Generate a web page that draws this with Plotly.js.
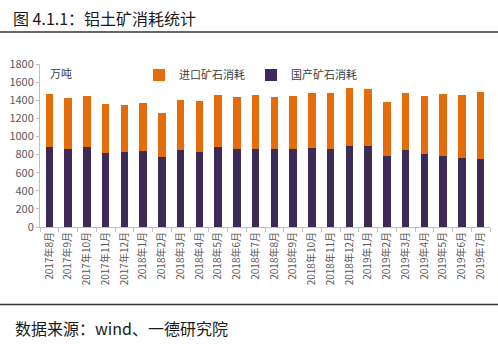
<!DOCTYPE html>
<html>
<head>
<meta charset="utf-8">
<script src="https://cdn.plot.ly/plotly-3.0.1.min.js"></script>
<style>html,body{margin:0;padding:0;background:#fff;}#chart{width:498px;height:347px;}</style>
</head>
<body>
<div id="chart"></div>
<script>
const categories = ["2017年8月","2017年9月","2017年10月","2017年11月","2017年12月","2018年1月","2018年2月","2018年3月","2018年4月","2018年5月","2018年6月","2018年7月","2018年8月","2018年9月","2018年10月","2018年11月","2018年12月","2019年1月","2019年2月","2019年3月","2019年4月","2019年5月","2019年6月","2019年7月"];
const domestic = [882,860,888,819,830,841,771,852,830,882,860,860,860,860,871,860,899,899,789,849,811,789,764,749];
const imported = [584,561,556,536,514,525,492,551,562,573,573,595,573,584,606,617,633,622,589,628,633,677,691,742];

const FONT = "'Noto Sans CJK SC', 'Liberation Sans', sans-serif";
const px = x => (x - 40) / 450;
const py = y => (227 - y) / 163;

const data = [
  {type:'bar', name:'国产矿石消耗', x:categories, y:domestic, marker:{color:'#3D2A57'}},
  {type:'bar', name:'进口矿石消耗', x:categories, y:imported, marker:{color:'#E46C0A'}}
];

const layout = {
  width:498, height:347,
  margin:{l:40, r:8, t:64, b:120},
  paper_bgcolor:'#fff', plot_bgcolor:'#fff',
  barmode:'stack', bargap:0.59,
  font:{family:FONT, color:'#595959', size:11},
  showlegend:true,
  legend:{orientation:'h', traceorder:'reversed', x:px(139), y:py(75), xanchor:'left', yanchor:'middle',
          font:{size:11, color:'#404040', family:FONT}, bgcolor:'rgba(0,0,0,0)', itemwidth:30,
          entrywidth:67, entrywidthmode:'pixels'},
  xaxis:{type:'category', tickangle:-90, tickfont:{size:10, color:'#595959', family:FONT},
         showline:true, linecolor:'#BFBFBF', linewidth:1, ticks:'outside', tickson:'boundaries',
         ticklen:4, tickcolor:'#BFBFBF', showgrid:false, automargin:false},
  yaxis:{range:[0,1800], dtick:200, tickfont:{size:11, color:'#595959', family:FONT},
         showline:true, linecolor:'#BFBFBF', linewidth:1, ticks:'outside', ticklen:3, tickcolor:'#BFBFBF',
         showgrid:false, zeroline:false, automargin:false},
  shapes:[
    {type:'line', xref:'paper', yref:'paper', x0:px(0), x1:px(498), y0:py(32), y1:py(32), line:{color:'#333', width:1.5}},
    {type:'line', xref:'paper', yref:'paper', x0:px(0), x1:px(498), y0:py(304.5), y1:py(304.5), line:{color:'#333', width:1.5}}
  ],
  annotations:[
    {xref:'paper', yref:'paper', x:px(11), y:py(18), xanchor:'left', yanchor:'middle', showarrow:false,
     text:'图 4.1.1：铝土矿消耗统计', font:{size:16, color:'#1a1a1a', family:FONT}},
    {xref:'paper', yref:'paper', x:px(13), y:py(328), xanchor:'left', yanchor:'middle', showarrow:false,
     text:'数据来源：wind、一德研究院', font:{size:16, color:'#1a1a1a', family:FONT}},
    {xref:'paper', yref:'paper', x:px(48), y:py(73), xanchor:'left', yanchor:'middle', showarrow:false,
     text:'万吨', font:{size:11, color:'#404040', family:FONT}}
  ]
};

Plotly.newPlot('chart', data, layout, {displayModeBar:false, staticPlot:true});
</script>
</body>
</html>
